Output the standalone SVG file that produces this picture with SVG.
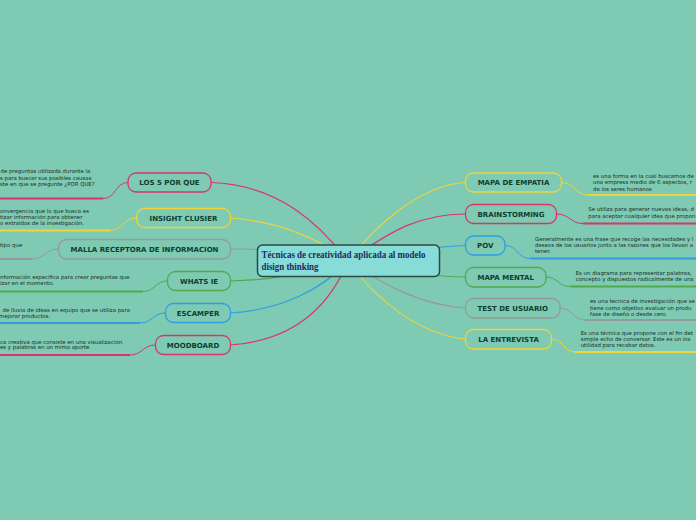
<svg xmlns="http://www.w3.org/2000/svg" width="696" height="520" viewBox="0 0 696 520">
<style>
.bg{fill:#7ecab3}
.c{fill:none;stroke-width:1.2;stroke-linecap:round}
.u{fill:none;stroke-width:2}
.k{fill:none;stroke-width:1}
.red{stroke:#d9356c}
.yel{stroke:#f0d43a}
.gry{stroke:#969a9a}
.grn{stroke:#52a84c}
.blu{stroke:#2e9ee3}
.pill{fill:#7ecab3;stroke-width:1.3}
.lbl{font-family:"DejaVu Sans",Verdana,sans-serif;font-weight:bold;font-size:7px;fill:#0f3d30;text-anchor:middle}
.d{font-family:"DejaVu Sans",Verdana,sans-serif;font-size:5.4px;fill:#1a2b26}
.ct{font-family:"Liberation Serif","Times New Roman",serif;font-weight:bold;font-size:9.3px;fill:#1b2a5e}
</style>
<rect class="bg" x="0" y="0" width="696" height="520"/>
<g id="connectors">
<path class="c red" d="M211,182.5 C280,185 320,225 348,261"/>
<path class="c yel" d="M230.5,218 C280,222 318,238 348,261"/>
<path class="c gry" d="M230.5,249 C290,249 310,252 348,261"/>
<path class="c grn" d="M230.5,281 C280,280 305,272 348,261"/>
<path class="c blu" d="M230.5,313 C280,310 322,290 348,261"/>
<path class="c red" d="M230.5,345 C300,340 332,300 348,261"/>
<path class="c yel" d="M465.5,182.5 C420,185 376,225 348,261"/>
<path class="c red" d="M465.5,214 C420,214 392,230 348,261"/>
<path class="c blu" d="M465.5,245.5 C450,246 400,250 348,261"/>
<path class="c grn" d="M465.5,277 C440,277 400,272 348,261"/>
<path class="c gry" d="M465.5,308 C420,305 385,285 348,261"/>
<path class="c yel" d="M465.5,339 C420,335 376,300 348,261"/>
<path class="k red" d="M128,182.5 C115,182.5 116,198.5 103,198.5"/>
<path class="u red" d="M103,198.5 H0"/>
<path class="k yel" d="M136.5,218 C123,218 123,230.5 110,230.5"/>
<path class="u yel" d="M110,230.5 H0"/>
<path class="k gry" d="M58.5,249 C45,249 45,259 32,259"/>
<path class="u gry" d="M32,259 H0"/>
<path class="k grn" d="M167.5,281 C155,281 155,291.5 143,291.5"/>
<path class="u grn" d="M143,291.5 H0"/>
<path class="k blu" d="M165.5,313 C153,313 152,323 140,323"/>
<path class="u blu" d="M140,323 H0"/>
<path class="k red" d="M155.5,345 C143,345 142,355 130,355"/>
<path class="u red" d="M130,355 H0"/>
<path class="k yel" d="M561.5,182.5 C575,182.5 575,195 588,195"/>
<path class="u yel" d="M588,195 H696"/>
<path class="k red" d="M556.5,214 C570,214 570,223.5 583,223.5"/>
<path class="u red" d="M583,223.5 H696"/>
<path class="k blu" d="M505,245.5 C518,245.5 517,258.5 530,258.5"/>
<path class="u blu" d="M530,258.5 H696"/>
<path class="k grn" d="M546,277 C558,277 558,286.5 570,286.5"/>
<path class="u grn" d="M570,286.5 H696"/>
<path class="k gry" d="M560,308 C572,308 573,320 585,320"/>
<path class="u gry" d="M585,320 H696"/>
<path class="k yel" d="M551.5,339 C563,339 564,352 575,352"/>
<path class="u yel" d="M575,352 H696"/>
</g>
<g id="central">
<rect x="257.5" y="245" width="182" height="31.5" rx="5" fill="#88dcd8" stroke="#2b4a45" stroke-width="1.5"/>
<text class="ct" x="261.5" y="258" textLength="164" lengthAdjust="spacingAndGlyphs">Técnicas de creatividad aplicada al modelo</text>
<text class="ct" x="261.5" y="269.5" textLength="57" lengthAdjust="spacingAndGlyphs">disign thinking</text>
</g>
<g id="los5porque">
<rect class="pill red" x="128" y="173" width="83" height="19" rx="8"/>
<text class="lbl" x="169.5" y="185">LOS 5 POR QUE</text>
<text class="d" x="0.5" y="173.3">de preguntas utilizada durante la</text>
<text class="d" x="0" y="179.7">s para buscar sus posibles causas</text>
<text class="d" x="0" y="186">ste en que se pregunte ¿POR QUE?</text>
</g>
<g id="insight">
<rect class="pill yel" x="136.5" y="208.5" width="94" height="19" rx="8"/>
<text class="lbl" x="183.5" y="220.5">INSIGHT CLUSIER</text>
<text class="d" x="0" y="213.2">onvergencia que lo que busca es</text>
<text class="d" x="0" y="219.2">tizar información para obtener</text>
<text class="d" x="0" y="225.2">o extraídos de la investigación.</text>
</g>
<g id="malla">
<rect class="pill gry" x="58.5" y="239.5" width="172" height="19.5" rx="8"/>
<text class="lbl" x="144.5" y="251.8">MALLA RECEPTORA DE INFORMACION</text>
<text class="d" x="0" y="247.4">tipo que</text>
</g>
<g id="whatsie">
<rect class="pill grn" x="167.5" y="271.5" width="63" height="19" rx="8"/>
<text class="lbl" x="199" y="283.5">WHATS IE</text>
<text class="d" x="0" y="279.4">nformación especifica para crear preguntas que</text>
<text class="d" x="0" y="285.2">izar en el momento.</text>
</g>
<g id="escamper">
<rect class="pill blu" x="165.5" y="303.5" width="65" height="19" rx="8"/>
<text class="lbl" x="198" y="315.5">ESCAMPER</text>
<text class="d" x="2.5" y="311.7">de lluvia de ideas en equipo que se utiliza para</text>
<text class="d" x="-1" y="317.7">mejorar productos.</text>
</g>
<g id="moodboard">
<rect class="pill red" x="155.5" y="335.5" width="75" height="19" rx="8"/>
<text class="lbl" x="193" y="347.5">MOODBOARD</text>
<text class="d" x="0" y="343.7">ca creativa que consiste en una visualización</text>
<text class="d" x="0" y="349.4">es y palabras en un mimo aporte</text>
</g>
<g id="mapaempatia">
<rect class="pill yel" x="465.5" y="173" width="96" height="19" rx="8"/>
<text class="lbl" x="513.5" y="185">MAPA DE EMPATIA</text>
<text class="d" x="593" y="177.8">es una forma en la cual buscamos de</text>
<text class="d" x="593" y="184.2">una empresa medio de 6 aspectos, r</text>
<text class="d" x="593" y="190.6">de los seres humanos</text>
</g>
<g id="brainstorming">
<rect class="pill red" x="465.5" y="204.5" width="91" height="19" rx="8"/>
<text class="lbl" x="511" y="216.5">BRAINSTORMING</text>
<text class="d" x="588.3" y="211.3">Se utiliza para generar nuevas ideas, d</text>
<text class="d" x="588.3" y="218.2">para aceptar cualquier idea que propon</text>
</g>
<g id="pov">
<rect class="pill blu" x="465.5" y="236" width="39.5" height="19" rx="8"/>
<text class="lbl" x="485.2" y="248">POV</text>
<text class="d" x="535" y="240.8">Generalmente es una frase que recoge las necesidades y l</text>
<text class="d" x="535" y="247">deseos de los usuarios junto a las razones que los llevan a</text>
<text class="d" x="535" y="253.2">tener.</text>
</g>
<g id="mapamental">
<rect class="pill grn" x="465.5" y="267.5" width="80.5" height="19.5" rx="8"/>
<text class="lbl" x="505.7" y="279.7">MAPA MENTAL</text>
<text class="d" x="575.7" y="275">Es un diagrama para representar palabras,</text>
<text class="d" x="575.7" y="281.3">concepto  y dispuestos radicalmente de una</text>
</g>
<g id="testusuario">
<rect class="pill gry" x="465.5" y="298.5" width="94.5" height="19.5" rx="8"/>
<text class="lbl" x="512.7" y="310.7">TEST DE USUARIO</text>
<text class="d" x="590" y="303.3">es una tecnica de investigación que se</text>
<text class="d" x="590" y="309.5">tiene como objetivo  evaluar un produ</text>
<text class="d" x="590" y="315.8">fase de diseño o desde cero.</text>
</g>
<g id="entrevista">
<rect class="pill yel" x="465.5" y="329.5" width="86" height="19.5" rx="8"/>
<text class="lbl" x="508.5" y="341.7">LA ENTREVISTA</text>
<text class="d" x="580.7" y="334.5">Es una técnica que propone con el fin det</text>
<text class="d" x="580.7" y="340.8">simple echo de conversar. Este es un ins</text>
<text class="d" x="580.7" y="347.2">utilidad para recabar datos.</text>
</g>
</svg>
